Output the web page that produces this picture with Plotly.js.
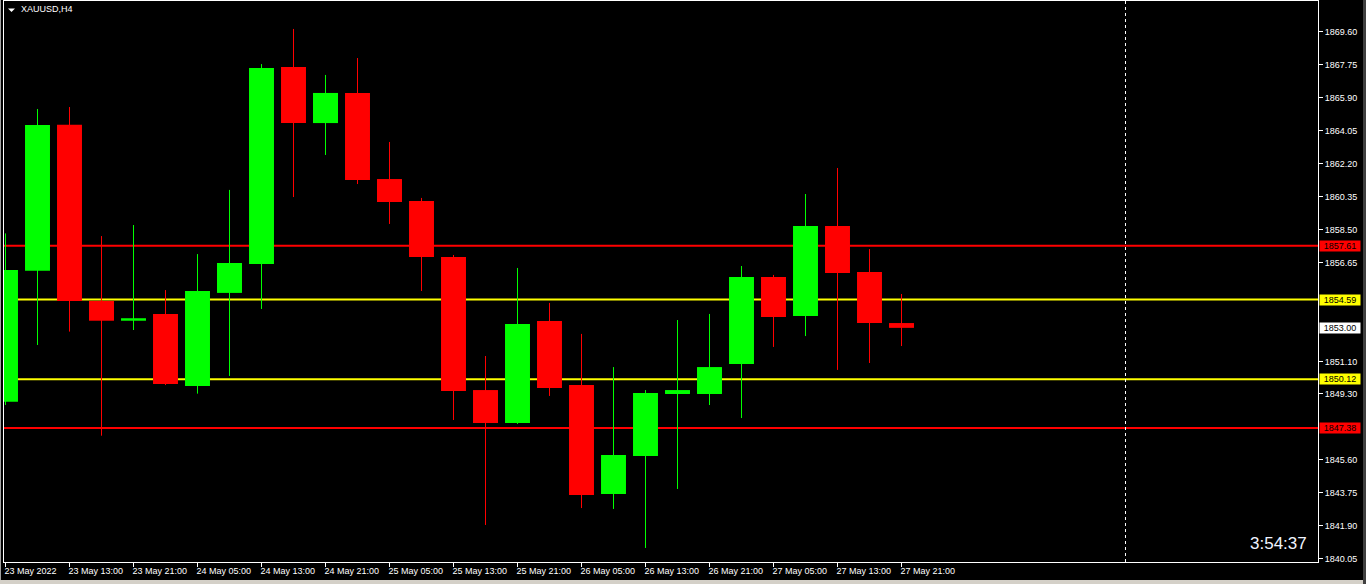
<!DOCTYPE html>
<html>
<head>
<meta charset="utf-8">
<script src="https://cdn.plot.ly/plotly-3.0.1.min.js"></script>
<style>
  html, body { margin: 0; padding: 0; background: #000; }
  #chart { width: 1366px; height: 584px; }
</style>
</head>
<body>
<div id="chart"></div>
<script>
// ---- data (XAUUSD, H4) ----
var symbolTitle = 'XAUUSD,H4';
var times = ['23 May 05:00','23 May 09:00','23 May 13:00','23 May 17:00','23 May 21:00',
             '24 May 01:00','24 May 05:00','24 May 09:00','24 May 13:00','24 May 17:00','24 May 21:00',
             '25 May 01:00','25 May 05:00','25 May 09:00','25 May 13:00','25 May 17:00','25 May 21:00',
             '26 May 01:00','26 May 05:00','26 May 09:00','26 May 13:00','26 May 17:00','26 May 21:00',
             '27 May 01:00','27 May 05:00','27 May 09:00','27 May 13:00','27 May 17:00','27 May 21:00'];
var open  = [1848.86,1856.20,1864.40,1854.51,1853.40,1853.78,1849.74,1854.96,1856.58,1867.64,1864.49,1866.18,1861.35,1860.12,1856.98,1849.51,1847.66,1853.39,1849.79,1843.68,1845.81,1849.29,1849.29,1850.97,1855.85,1853.67,1858.71,1856.13,1853.27];
var high  = [1858.30,1865.28,1865.39,1858.15,1858.77,1855.12,1857.14,1860.74,1867.80,1869.77,1867.19,1868.14,1863.43,1860.29,1857.09,1851.42,1856.36,1854.40,1852.66,1850.80,1849.51,1853.44,1853.78,1856.47,1855.97,1860.51,1861.97,1857.42,1854.90];
var low   = [1848.67,1852.04,1852.79,1846.95,1852.88,1849.79,1849.31,1850.30,1854.06,1860.34,1862.70,1861.07,1858.83,1855.07,1847.83,1841.94,1847.61,1849.18,1842.89,1842.84,1840.65,1843.96,1848.67,1847.94,1851.93,1852.54,1850.64,1851.03,1851.98];
var close = [1856.25,1864.38,1854.51,1853.40,1853.54,1849.85,1855.07,1856.64,1867.58,1864.49,1866.18,1861.30,1860.06,1856.98,1849.46,1847.66,1853.22,1849.63,1843.62,1845.87,1849.35,1849.51,1850.80,1855.85,1853.61,1858.71,1856.08,1853.27,1853.00];

var xTickTimes  = ['23 May 05:00','23 May 13:00','23 May 21:00','24 May 05:00','24 May 13:00','24 May 21:00','25 May 05:00','25 May 13:00','25 May 21:00','26 May 05:00','26 May 13:00','26 May 21:00','27 May 05:00','27 May 13:00','27 May 21:00'];
var xTickLabels = ['23 May 2022','23 May 13:00','23 May 21:00','24 May 05:00','24 May 13:00','24 May 21:00','25 May 05:00','25 May 13:00','25 May 21:00','26 May 05:00','26 May 13:00','26 May 21:00','27 May 05:00','27 May 13:00','27 May 21:00'];
var yTickVals = [1869.60,1867.75,1865.90,1864.05,1862.20,1860.35,1858.50,1856.65,1851.10,1849.30,1845.60,1843.75,1841.90,1840.05];

var levelValues = [1857.61, 1854.59, 1850.12, 1847.38];
var levelKinds  = ['red', 'yellow', 'yellow', 'red'];
var currentPrice = 1853.00;
var countdownText = '3:54:37';
var separatorBarIndex = 35;

// ---- styling / geometry ----
var W = 1366, H = 584, ML = 4, MR = 48, MT = 1, MB = 22;
var PW = W - ML - MR, PH = H - MT - MB;
function px(p) { return (p - ML) / PW; }
function py(p) { return (H - MB - p) / PH; }
var COL = { green: '#00ff00', red: '#ff0000', yellow: '#ffff00', white: '#ffffff' };
var FONT = 'Liberation Sans, Arial, sans-serif';

var idx = times.map(function (_, i) { return i; });
var up = idx.filter(function (i) { return close[i] >= open[i]; });
var dn = idx.filter(function (i) { return close[i] < open[i]; });

function bodyTrace(list, color) {
  return {
    type: 'bar',
    x: list,
    base: list.map(function (i) { return Math.min(open[i], close[i]); }),
    y: list.map(function (i) { return Math.abs(close[i] - open[i]); }),
    width: 0.78,
    marker: { color: color, line: { width: 0 } },
    hoverinfo: 'skip'
  };
}
function wickTrace(list, color) {
  var xs = [], ys = [];
  list.forEach(function (i) { xs.push(i, i, null); ys.push(low[i], high[i], null); });
  return {
    type: 'scatter', mode: 'lines', x: xs, y: ys,
    line: { color: color, width: 1 }, hoverinfo: 'skip', connectgaps: false
  };
}

var traces = [wickTrace(up, COL.green), wickTrace(dn, COL.red), bodyTrace(up, COL.green), bodyTrace(dn, COL.red)];

var shapes = [];
levelValues.forEach(function (v, k) {
  shapes.push({ type: 'line', layer: 'below', xref: 'paper', x0: 0, x1: 1, yref: 'y', y0: v, y1: v,
                line: { color: COL[levelKinds[k]], width: 2 } });
});
shapes.push({ type: 'line', layer: 'below', xref: 'x', x0: separatorBarIndex, x1: separatorBarIndex,
              yref: 'paper', y0: 0, y1: 1, line: { color: '#ffffff', width: 1, dash: '3px,3px' } });
// window frame (gray)
shapes.push({ type: 'line', xref: 'paper', yref: 'paper', x0: px(0.5), x1: px(0.5), y0: py(0), y1: py(584), line: { color: '#a0a0a0', width: 1 } });
shapes.push({ type: 'rect', xref: 'paper', yref: 'paper', x0: px(0), x1: px(1366), y0: py(580), y1: py(584), fillcolor: '#d4d0c8', line: { width: 0 } });
shapes.push({ type: 'rect', xref: 'paper', yref: 'paper', x0: px(1363), x1: px(1366), y0: py(0), y1: py(584), fillcolor: '#404040', line: { width: 0 } });
// menu triangle
shapes.push({ type: 'path', xref: 'paper', yref: 'paper',
              path: 'M ' + px(8) + ' ' + py(8.5) + ' L ' + px(15) + ' ' + py(8.5) + ' L ' + px(11.5) + ' ' + py(12) + ' Z',
              fillcolor: '#ffffff', line: { width: 0 } });

var annotations = [];
annotations.push({ xref: 'paper', yref: 'paper', x: px(19), y: py(9), xanchor: 'left', yanchor: 'middle',
                   text: symbolTitle, showarrow: false, font: { family: FONT, size: 9, color: '#ffffff' } });
annotations.push({ xref: 'paper', yref: 'paper', x: px(1309), y: py(543), xanchor: 'right', yanchor: 'middle',
                   text: countdownText, showarrow: false, font: { family: FONT, size: 17, color: '#f0f4ff' } });
function priceBox(v, bg) {
  return { xref: 'paper', yref: 'y', x: 1, y: v, xanchor: 'left', yanchor: 'middle', xshift: 1,
           text: v.toFixed(2), showarrow: false, bgcolor: bg, width: 40, height: 10, borderpad: 0,
           align: 'center', font: { family: FONT, size: 9, color: '#000000' } };
}
levelValues.forEach(function (v, k) { annotations.push(priceBox(v, COL[levelKinds[k]])); });
annotations.push(priceBox(currentPrice, '#ffffff'));

var layout = {
  width: W, height: H,
  margin: { l: ML, r: MR, t: MT, b: MB, pad: 0 },
  paper_bgcolor: '#000000', plot_bgcolor: '#000000',
  showlegend: false, barmode: 'overlay', hovermode: false,
  font: { family: FONT, size: 9, color: '#ffffff' },
  xaxis: {
    range: [(4 - 5.5) / 32, (1318 - 5.5) / 32],
    tickmode: 'array',
    tickvals: xTickTimes.map(function (t) { return times.indexOf(t); }),
    ticktext: xTickLabels,
    ticks: 'outside', ticklen: 4, tickcolor: '#ffffff', tickwidth: 1,
    ticklabelposition: 'outside right',
    ticklabelshift: -2,
    tickfont: { family: FONT, size: 9, color: '#ffffff' },
    showgrid: false, zeroline: false,
    showline: true, linecolor: '#ffffff', linewidth: 1, mirror: true,
    fixedrange: true
  },
  yaxis: {
    side: 'right',
    range: [1839.863, 1871.339],
    tickmode: 'array',
    tickvals: yTickVals,
    ticktext: yTickVals.map(function (v) { return v.toFixed(2); }),
    ticks: 'outside', ticklen: 4, tickcolor: '#ffffff', tickwidth: 1,
    tickfont: { family: FONT, size: 9, color: '#ffffff' },
    showgrid: false, zeroline: false,
    showline: true, linecolor: '#ffffff', linewidth: 1, mirror: true,
    fixedrange: true
  },
  shapes: shapes,
  annotations: annotations
};

Plotly.newPlot('chart', traces, layout, { displayModeBar: false, staticPlot: true });
</script>
</body>
</html>
